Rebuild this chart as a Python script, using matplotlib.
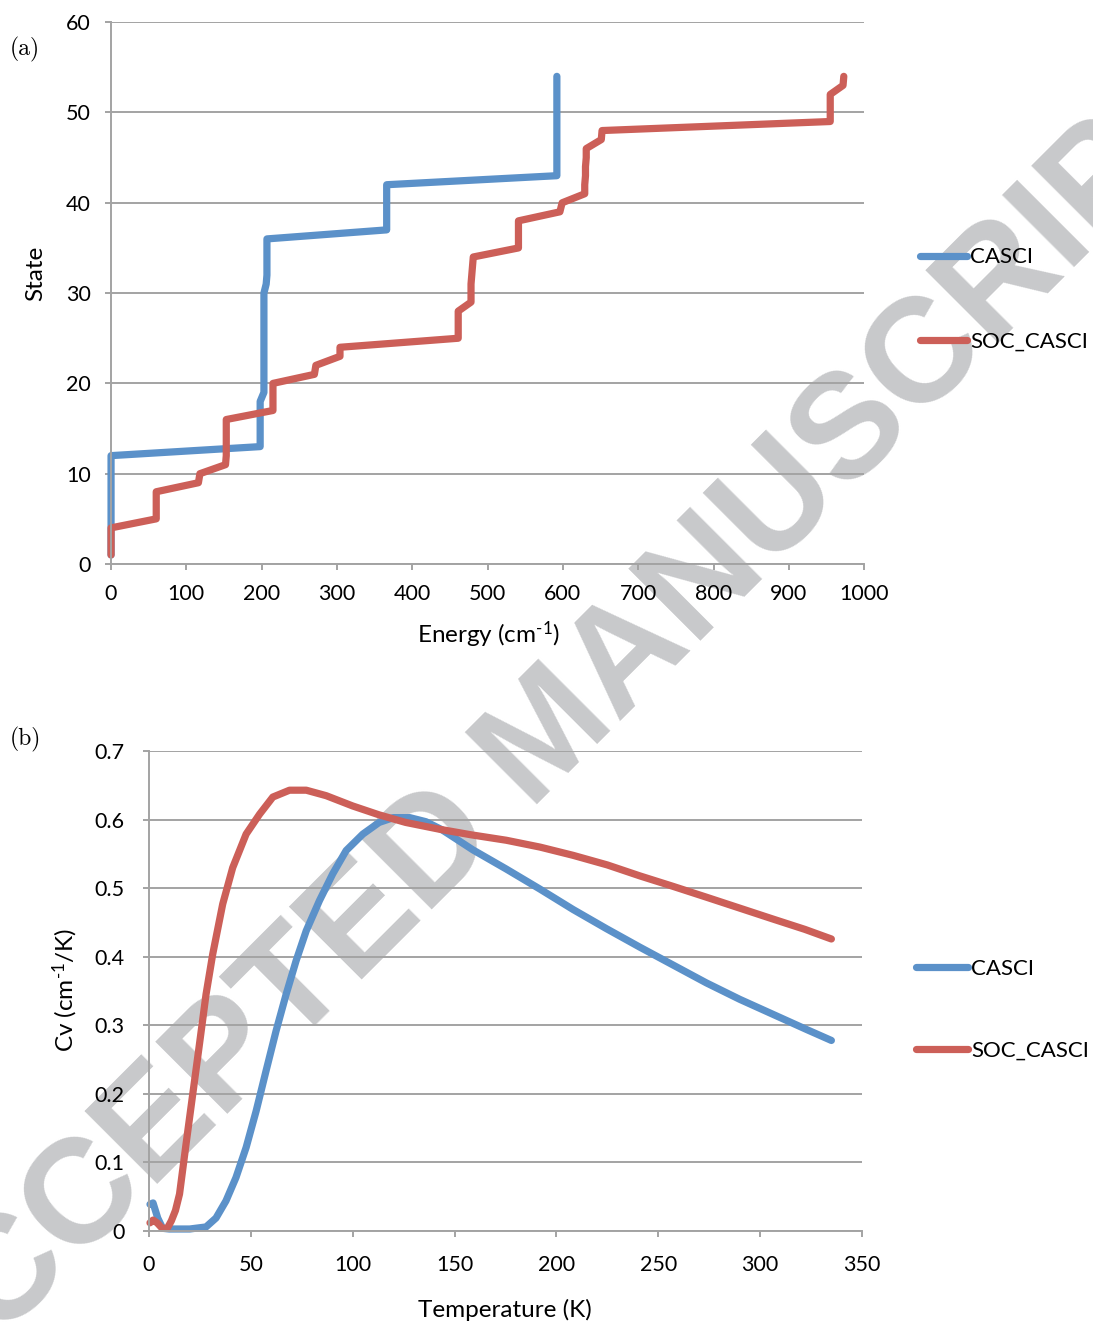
import matplotlib
matplotlib.use("Agg")
import matplotlib.pyplot as plt

# fonts
plt.rcParams['font.family'] = ['Lato', 'DejaVu Sans']
plt.rcParams['mathtext.fontset'] = 'custom'
plt.rcParams['mathtext.rm'] = 'Lato'
plt.rcParams['mathtext.it'] = 'Lato:italic'

blue = '#5B91C9'
red = '#CC5F58'
grey = '#A3A3A3'
mark = '#C8C9CB'

# (a) state energies, cm-1 (states 1..54)
states = list(range(1, 55))
casci_energy = [0, 0, 0, 0, 0, 0, 0, 0, 0, 0, 0, 0,
                198, 198, 198, 198, 198, 198,
                203, 203, 203, 203, 203, 203, 203, 203, 203, 203, 203, 203,
                206, 207, 207, 207, 207, 207,
                366, 366, 366, 366, 366, 366,
                592, 592, 592, 592, 592, 592, 592, 592, 592, 592, 592, 592]
soc_energy = [0, 0, 0, 0,
              60, 60, 60, 60,
              116, 118,
              152, 153, 153, 153, 153, 153,
              215, 215, 215, 215,
              270, 272,
              304, 304,
              461, 461, 461, 461,
              478, 478, 478, 479, 480, 481,
              541, 541, 541, 541,
              596, 599,
              629, 629, 630, 630, 631, 631,
              651, 652,
              955, 955, 955, 955,
              972, 973]

# (b) heat capacity
casci_T = [0.5, 2, 4.3, 6.7, 10, 20, 28, 32.9, 37.8, 42.7, 47.7, 52.6, 57.5, 62.4,
           67.3, 72.2, 77.2, 83.7, 90.2, 96.8, 105, 113, 120, 128, 136, 144, 152.3,
           159, 175.4, 191.8, 208.2, 224.6, 241, 257.3, 273.6, 290, 306.4, 322.8, 335]
casci_cv = [0.039, 0.041, 0.019, 0.004, 0.003, 0.003, 0.006, 0.019, 0.044, 0.078,
            0.122, 0.175, 0.234, 0.292, 0.345, 0.394, 0.438, 0.482, 0.521, 0.555,
            0.579, 0.596, 0.603, 0.603, 0.597, 0.585, 0.569, 0.556, 0.528, 0.499,
            0.469, 0.441, 0.414, 0.388, 0.362, 0.338, 0.316, 0.294, 0.278]
soc_T = [0.5, 2, 4, 6.5, 9, 11, 13, 15, 18.2, 21.5, 24.8, 28, 31.3, 36.2, 41.1,
         47.7, 54.3, 60.8, 69, 77.2, 87, 100, 113, 126, 142.7, 158, 175.4,
         192, 208.2, 225, 241, 257, 273.6, 290, 306.4, 322, 335]
soc_cv = [0.012, 0.016, 0.012, 0.004, 0.004, 0.015, 0.03, 0.054, 0.127, 0.2,
          0.273, 0.345, 0.404, 0.477, 0.530, 0.579, 0.608, 0.633, 0.643, 0.643,
          0.635, 0.620, 0.607, 0.596, 0.586, 0.578, 0.570, 0.560, 0.548, 0.534,
          0.518, 0.503, 0.487, 0.471, 0.455, 0.440, 0.426]

fig = plt.figure(figsize=(10.93, 13.28), dpi=100)
ax1 = fig.add_axes([0.1016, 0.5753, 0.689, 0.408])
ax2 = fig.add_axes([0.1363, 0.0730, 0.6523, 0.3614])

line_kw = dict(lw=5.2, solid_capstyle='round', solid_joinstyle='round', clip_on=False)


def style_axes(ax, pad):
    ax.set_facecolor('none')
    for s in ['top', 'right']:
        ax.spines[s].set_visible(False)
    for s in ['left', 'bottom']:
        ax.spines[s].set_color(grey)
        ax.spines[s].set_linewidth(1.4)
    ax.grid(axis='y', color=grey, lw=1.4)
    ax.set_axisbelow(True)
    ax.tick_params(colors=grey, length=4.5, width=1.4, labelsize=15.5,
                   labelcolor='black', pad=pad)


ax1.plot(casci_energy, states, color=blue, label='CASCI', **line_kw)
ax1.plot(soc_energy, states, color=red, label='SOC_CASCI', **line_kw)
ax1.set_xlim(0, 1000)
ax1.set_ylim(0, 60)
ax1.set_xticks(range(0, 1001, 100))
ax1.set_yticks(range(0, 61, 10))
style_axes(ax1, 10)
ax1.set_xlabel('Energy (cm$^{\\text{-1}}$)', fontsize=17.5)
ax1.set_ylabel('State', fontsize=17.5)
ax1.xaxis.set_label_coords(0.5007, -0.103)
ax1.yaxis.set_label_coords(-0.086, 0.537)
ax1.legend(loc='center left', bbox_to_anchor=(1.06, 0.488), frameon=False,
           fontsize=16, handlelength=2.1, handletextpad=0.15, borderpad=0,
           labelspacing=2.9)

ax2.plot(casci_T, casci_cv, color=blue, label='CASCI', **line_kw)
ax2.plot(soc_T, soc_cv, color=red, label='SOC_CASCI', **line_kw)
ax2.set_xlim(0, 350)
ax2.set_ylim(0, 0.7)
ax2.set_xticks(range(0, 351, 50))
ax2.set_yticks([0, 0.1, 0.2, 0.3, 0.4, 0.5, 0.6, 0.7])
ax2.set_yticklabels(['0', '0.1', '0.2', '0.3', '0.4', '0.5', '0.6', '0.7'])
style_axes(ax2, 13)
ax2.set_xlabel('Temperature (K)', fontsize=17.5)
ax2.set_ylabel('Cv (cm$^{\\text{-1}}$/K)', fontsize=17.5)
ax2.xaxis.set_label_coords(0.4993, -0.142)
ax2.yaxis.set_label_coords(-0.097, 0.502)
ax2.legend(loc='center left', bbox_to_anchor=(1.06, 0.461), frameon=False,
           fontsize=16, handlelength=2.35, handletextpad=0.15, borderpad=0,
           labelspacing=2.75)

# panel letters
fig.text(0.009, 0.963, '(a)', family='cmr10', fontsize=17, va='center')
fig.text(0.009, 0.443, '(b)', family='cmr10', fontsize=17, va='center')

# watermark
fig.text(0.503, 0.445, 'ACCEPTED MANUSCRIPT', rotation=45, ha='center', va='center',
         fontsize=107, fontweight='bold', family='Liberation Sans', color=mark,
         zorder=-1)

fig.savefig('out.png', dpi=100)
